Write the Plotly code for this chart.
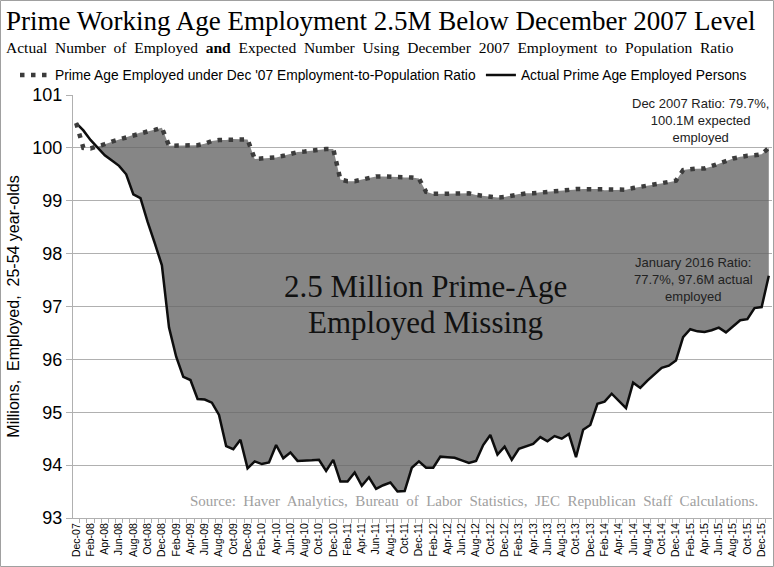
import plotly.graph_objects as go
import numpy as np
import pandas as pd

# monthly, Dec-07 .. Jan-16 (millions, 25-54 year-olds)
months = pd.date_range("2007-12-01", periods=98, freq="MS").strftime("%b-%y").tolist()

expected = [
    100.47, 100.00, 99.99, 100.02, 100.07, 100.12, 100.16, 100.20, 100.24, 100.29, 100.31, 100.34, 100.38,
    100.04, 100.04, 100.04, 100.04, 100.05, 100.08, 100.13, 100.15, 100.15, 100.17, 100.17, 100.16,
    99.79, 99.80, 99.80, 99.82, 99.85, 99.89, 99.92, 99.93, 99.95, 99.97, 99.98, 99.98,
    99.40, 99.37, 99.37, 99.40, 99.43, 99.46, 99.46, 99.46, 99.45, 99.44, 99.44, 99.42,
    99.17, 99.13, 99.13, 99.13, 99.14, 99.14, 99.14, 99.11, 99.09, 99.07, 99.06, 99.07,
    99.10, 99.13, 99.14, 99.14, 99.16, 99.17, 99.18, 99.19, 99.21, 99.22, 99.22, 99.22,
    99.22, 99.20, 99.20, 99.20, 99.21, 99.24, 99.26, 99.28, 99.31, 99.33, 99.35, 99.38,
    99.58, 99.60, 99.61, 99.61, 99.65, 99.70, 99.75, 99.80, 99.83, 99.85, 99.86, 99.88,
    100.00,
]

actual = [
    100.47, 100.33, 100.15, 100.00, 99.86, 99.76, 99.66, 99.50, 99.12, 99.05, 98.60, 98.20, 97.78,
    96.60, 96.05, 95.67, 95.61, 95.25, 95.24, 95.18, 94.95, 94.36, 94.30, 94.48, 93.94,
    94.07, 94.02, 94.05, 94.38, 94.13, 94.24, 94.08, 94.08, 94.09, 94.10, 93.89, 94.10,
    93.69, 93.69, 93.86, 93.61, 93.77, 93.55, 93.62, 93.67, 93.50, 93.51, 93.95, 94.07,
    93.95, 93.95, 94.16, 94.15, 94.14, 94.09, 94.04, 94.08, 94.38, 94.57, 94.20, 94.35,
    94.10, 94.31, 94.35, 94.40, 94.53, 94.45, 94.55, 94.50, 94.59, 94.15, 94.67, 94.76,
    95.16, 95.20, 95.35, 95.22, 95.08, 95.56, 95.46, 95.60, 95.72, 95.84, 95.88, 95.98,
    96.42, 96.57, 96.53, 96.52, 96.55, 96.60, 96.51, 96.63, 96.74, 96.76, 96.97, 96.99,
    97.58,
]

x = list(range(len(months)))
upper = np.maximum(expected, actual)

SANS = "Liberation Sans, Arial"
SERIF = "Liberation Serif, Times New Roman"

fig = go.Figure()

# shaded gap (only where expected is above actual)
fig.add_trace(go.Scatter(x=x, y=actual, mode="lines", line=dict(width=0), showlegend=False, hoverinfo="skip"))
fig.add_trace(go.Scatter(x=x, y=upper, mode="lines", line=dict(width=0), fill="tonexty",
                         fillcolor="rgba(100,100,100,0.78)", showlegend=False, hoverinfo="skip"))

fig.add_trace(go.Scatter(x=x, y=actual, mode="lines", name="Actual Prime Age Employed Persons",
                         line=dict(color="#0d0d0d", width=2.5), legendrank=2))
fig.add_trace(go.Scatter(x=x, y=expected, mode="lines",
                         name="Prime Age Employed under Dec '07 Employment-to-Population Ratio",
                         line=dict(color="#3c3c3c", width=4.5, dash="4.5px,6.5px"), legendrank=1))

fig.add_annotation(x=48.9, y=97.37, text="2.5 Million Prime-Age", showarrow=False,
                   font=dict(family=SERIF, size=31, color="#111111"))
fig.add_annotation(x=48.9, y=96.69, text="Employed Missing", showarrow=False,
                   font=dict(family=SERIF, size=31, color="#111111"))
fig.add_annotation(xref="paper", x=(771 - 73) / 699, xanchor="right", y=100.51,
                   text="Dec 2007 Ratio: 79.7%,<br>100.1M expected<br>employed", align="center",
                   showarrow=False, font=dict(family=SANS, size=13, color="#222222"))
fig.add_annotation(x=86.4, y=97.52, text="January 2016 Ratio:<br>77.7%, 97.6M actual<br>employed",
                   showarrow=False, font=dict(family=SANS, size=13, color="#222222"))
fig.add_annotation(x=55.7, y=93.33,
                   text="Source:  Haver  Analytics,  Bureau  of  Labor  Statistics,  JEC  Republican  Staff  Calculations.",
                   showarrow=False, font=dict(family=SERIF, size=15, color="#a0a0a0"))

# titles
fig.add_annotation(xref="paper", yref="paper", x=-69 / 699, y=(518 - 4) / 423, xanchor="left", yanchor="top",
                   text="Prime Working Age Employment 2.5M Below December 2007 Level", showarrow=False,
                   font=dict(family=SERIF, size=27, color="#000000"))
fig.add_annotation(xref="paper", yref="paper", x=-69 / 699, y=(518 - 37) / 423, xanchor="left", yanchor="top",
                   text="Actual  Number  of  Employed  <b>and</b>  Expected  Number  Using  December  2007  Employment  to  Population  Ratio",
                   showarrow=False, font=dict(family=SERIF, size=15.5, color="#000000"))

# outer border
fig.add_shape(type="rect", xref="paper", yref="paper", x0=-72.5 / 699, x1=700.5 / 699, y0=-48.5 / 423, y1=517.5 / 423,
              line=dict(color="#a0a0a0", width=1))

fig.update_layout(
    width=774, height=567,
    margin=dict(l=73, r=2, t=95, b=49),
    paper_bgcolor="white", plot_bgcolor="white",
    font=dict(family=SANS, color="#000000"),
    showlegend=True,
    legend=dict(orientation="h", x=-58 / 699, xanchor="left", y=(518 - 75) / 423, yanchor="middle",
                font=dict(family=SANS, size=13.8, color="#000000"), bgcolor="rgba(0,0,0,0)",
                itemwidth=30, traceorder="normal"),
    xaxis=dict(
        range=[-0.45, len(months) - 0.55],
        tickmode="array", tickvals=x[::2], ticktext=months[::2],
        tickangle=-90, tickfont=dict(family=SANS, size=10.5, color="#000000"),
        ticks="outside", ticklen=0, tickcolor="#b0b0b0",
        minor=dict(tickmode="linear", tick0=-0.5, dtick=1, ticks="outside", ticklen=4, tickcolor="#b0b0b0", showgrid=False),
        showgrid=False, zeroline=False, showline=True, linecolor="#b0b0b0", automargin=False,
    ),
    yaxis=dict(
        range=[93, 101], dtick=1,
        tickfont=dict(family=SANS, size=18, color="#000000"),
        ticks="outside", ticklen=6, tickcolor="#b0b0b0",
        gridcolor="#b0b0b0", gridwidth=1, zeroline=False,
        showline=True, linecolor="#b0b0b0",
        title=dict(text="Millions,  Employed,  25-54 year-olds", font=dict(family=SANS, size=16, color="#000000"), standoff=8),
        automargin=False,
    ),
)

# the page body has a default margin; drop it so the figure sits at the window corner
fig.write_html("out.html", config={"displayModeBar": False},
               post_script="document.body.style.margin='0';document.body.style.overflow='hidden';")
